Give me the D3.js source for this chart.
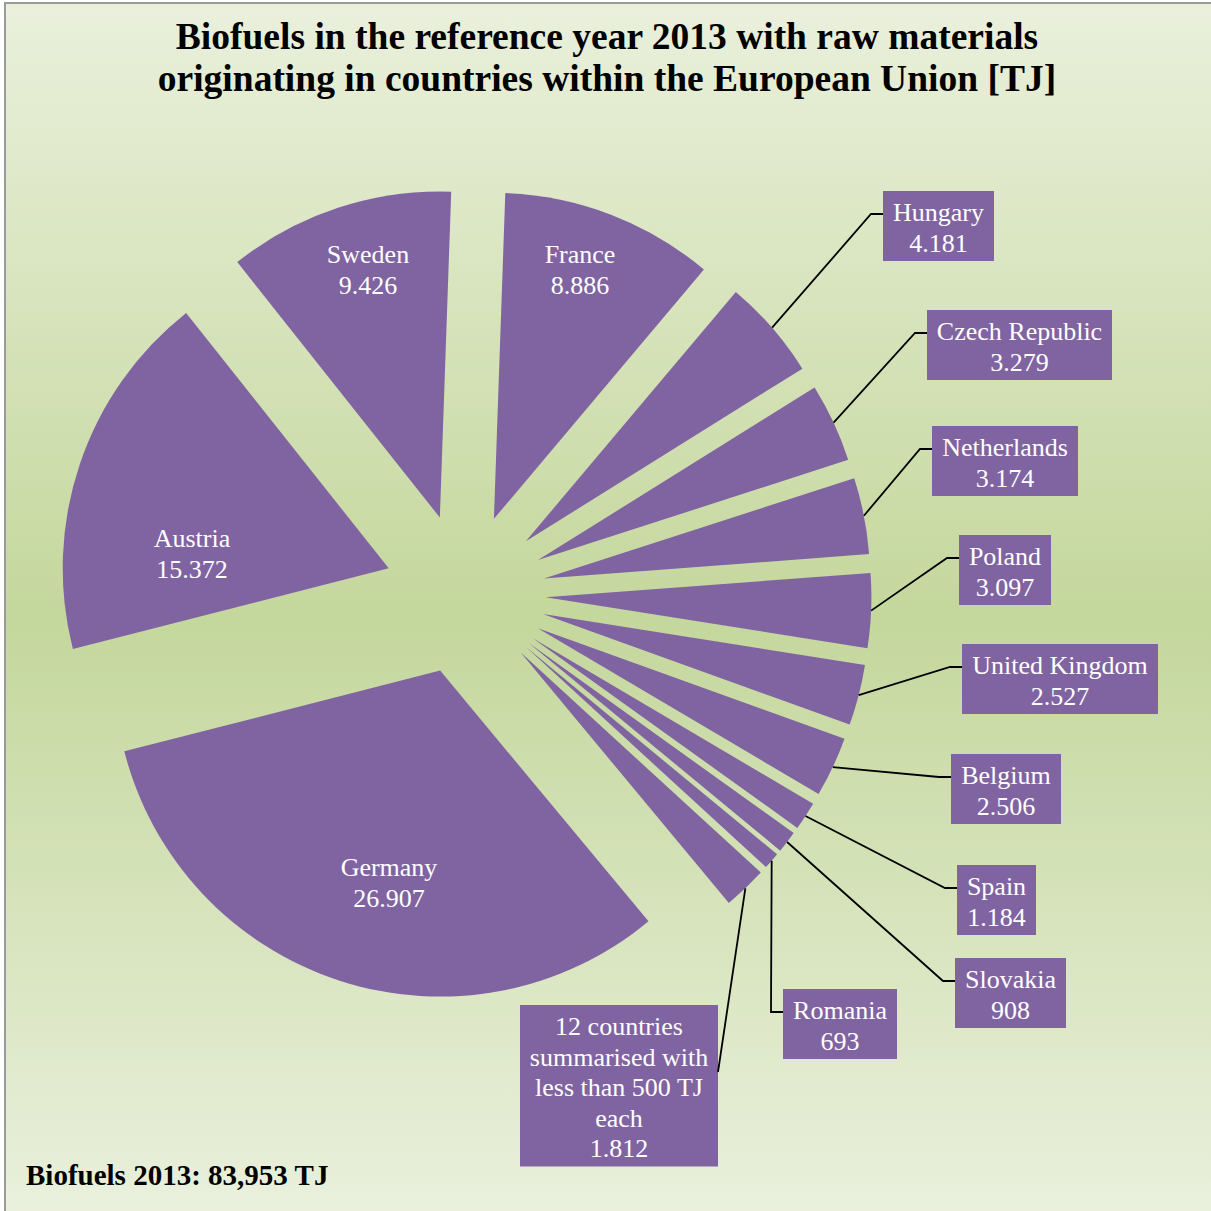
<!DOCTYPE html>
<html>
<head>
<meta charset="utf-8">
<script src="https://cdn.jsdelivr.net/npm/d3@7"></script>
<style>
  body { margin: 0; background: #fff; }
  svg { display: block; }
</style>
</head>
<body>
<div id="chartDiv"></div>
<script>
var width = 1211;
var height = 1211;

// data, clockwise from 12 o'clock
const countries = ["France", "Hungary", "Czech Republic", "Netherlands", "Poland", "United Kingdom",
  "Belgium", "Spain", "Slovakia", "Romania", "12 countries summarised with less than 500 TJ each",
  "Germany", "Austria", "Sweden"];
const values = [8886, 4181, 3279, 3174, 3097, 2527, 2506, 1184, 908, 693, 1812, 26907, 15372, 9426];
const titleLines = ["Biofuels in the reference year 2013 with raw materials",
  "originating in countries within the European Union [TJ]"];
const totalText = "Biofuels 2013: 83,953 TJ";

// how long names break inside their label box
const nameWrap = {
  "12 countries summarised with less than 500 TJ each": ["12 countries", "summarised with", "less than 500 TJ", "each"]
};

// label layout (not data): inside labels = first baseline, boxes = left/top
const insideLabels = { "France": [580, 263], "Sweden": [368, 263], "Austria": [192, 547], "Germany": [389, 876] };
const boxLabels = {
  "Hungary": [883, 191], "Czech Republic": [927, 310], "Netherlands": [932, 426], "Poland": [959, 535],
  "United Kingdom": [962, 644], "Belgium": [951, 754], "Spain": [957, 865], "Slovakia": [955, 958],
  "Romania": [783, 989], "12 countries summarised with less than 500 TJ each": [520, 1005, "right"]
};

var purple = "#8064a2";
var cx = 465, cy = 594, radius = 326, explode = 80.5;
var rot = 2 * Math.PI / 180;
var fontFam = "'Liberation Serif', 'Times New Roman', serif";

var fmt = d3.formatLocale({ decimal: ",", thousands: ".", grouping: [3] }).format(",d");

var svg = d3.select("#chartDiv")
  .append("svg")
  .attr("width", width)
  .attr("height", height)
  .style("font-family", fontFam);

var grad = svg.append("defs").append("linearGradient")
  .attr("id", "bg")
  .attr("x1", 0).attr("y1", 0).attr("x2", 0).attr("y2", 1);
grad.selectAll("stop")
  .data([[0, "#eaf0dc"], [0.5, "#c4d79c"], [1, "#ebf1df"]])
  .join("stop")
  .attr("offset", d => d[0])
  .attr("stop-color", d => d[1]);

svg.append("rect").attr("width", width).attr("height", height).attr("fill", "#fff");
svg.append("rect")
  .attr("x", 5).attr("y", 3)
  .attr("width", width + 20).attr("height", height + 20)
  .attr("fill", "url(#bg)")
  .attr("stroke", "#9a9a9a")
  .attr("stroke-width", 2);

// title
svg.append("text")
  .attr("text-anchor", "middle")
  .attr("font-weight", "bold")
  .attr("font-size", 37.5)
  .selectAll("tspan")
  .data(titleLines)
  .join("tspan")
  .attr("x", 607)
  .attr("y", (d, i) => 49 + i * 42)
  .text(d => d);

var pie = d3.pie().sort(null).value(d => d.value)
  .startAngle(rot).endAngle(rot + 2 * Math.PI);

var arcs = pie(countries.map((c, i) => ({ name: c, value: values[i] })));

var arc = d3.arc().innerRadius(0).outerRadius(radius);

// apex of each exploded slice
arcs.forEach(d => {
  d.mid = (d.startAngle + d.endAngle) / 2;
  d.ox = cx + explode * Math.sin(d.mid);
  d.oy = cy - explode * Math.cos(d.mid);
});

var g = svg.append("g");

g.selectAll("path")
  .data(arcs)
  .join("path")
  .attr("transform", d => `translate(${d.ox},${d.oy})`)
  .attr("fill", purple)
  .attr("d", arc);

// labels inside the big slices
arcs.filter(d => insideLabels[d.data.name]).forEach(d => {
  var p = insideLabels[d.data.name];
  svg.append("text")
    .attr("text-anchor", "middle")
    .attr("font-size", 26)
    .attr("fill", "#fff")
    .selectAll("tspan")
    .data([d.data.name, fmt(d.data.value)])
    .join("tspan")
    .attr("x", p[0])
    .attr("y", (t, i) => p[1] + i * 30.5)
    .text(t => t);
});

// boxed labels with leader lines
var lineH = 30.5, padX = 10;
arcs.filter(d => boxLabels[d.data.name]).forEach(d => {
  var b = boxLabels[d.data.name];
  var lines = (nameWrap[d.data.name] || [d.data.name]).concat([fmt(d.data.value)]);
  var lg = svg.append("g");
  var rect = lg.append("rect").attr("fill", purple);
  var txt = lg.append("text")
    .attr("text-anchor", "middle")
    .attr("font-size", 26)
    .attr("fill", "#fff");
  var spans = txt.selectAll("tspan").data(lines).join("tspan").text(t => t);
  var tw = d3.max(spans.nodes(), n => n.getComputedTextLength());
  var bw = Math.round(tw + 2 * padX);
  var bh = lines.length * lineH + 9;
  rect.attr("x", b[0]).attr("y", b[1]).attr("width", bw).attr("height", bh);
  spans.attr("x", b[0] + bw / 2).attr("y", (t, i) => b[1] + 30 + i * lineH);

  // start of the leader on the outer arc
  var sx = d.ox + radius * Math.sin(d.mid);
  var sy = d.oy - radius * Math.cos(d.mid);
  var pts;
  if (b[2] === "right") {
    pts = [[sx, sy], [b[0] + bw, b[1] + 67]];
  } else {
    pts = [[sx, sy], [b[0] - 12, b[1] + 23], [b[0], b[1] + 23]];
  }
  svg.append("path")
    .attr("d", d3.line()(pts))
    .attr("fill", "none")
    .attr("stroke", "#000")
    .attr("stroke-width", 1.8);
});

svg.append("text")
  .attr("x", 26)
  .attr("y", 1185)
  .attr("font-weight", "bold")
  .attr("font-size", 29)
  .text(totalText);
</script>
</body>
</html>
